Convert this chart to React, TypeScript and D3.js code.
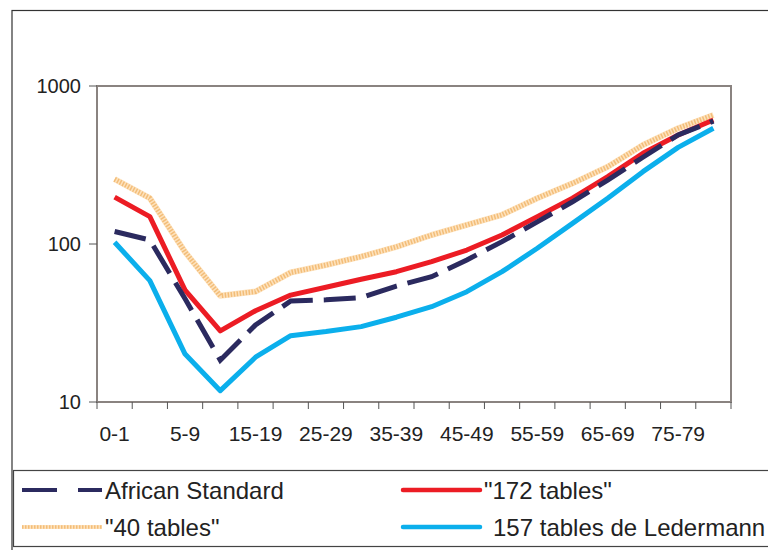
import React from "react";
import * as d3 from "d3";

const categories = ["0-1","1-4","5-9","10-14","15-19","20-24","25-29","30-34","35-39","40-44","45-49","50-54","55-59","60-64","65-69","70-74","75-79","80-84"];
const tickLabels = ["0-1","5-9","15-19","25-29","35-39","45-49","55-59","65-69","75-79"];
const yTicks = [10, 100, 1000];

const africanStandard = [120,106,45,18.4,30.7,43.6,44.3,45.7,54.2,62.1,79.3,103.5,138,185,254,354,490,600];
const tables172 = [198,149,51,28.2,37.8,47.5,53.2,59.8,66.8,77.3,91.6,114,149,195,267,375,490,609];
const tables40 = [257,195,89,47,50,66,73.6,83.2,96,114,132,153,195,242,308,423,540,655];
const ledermann157 = [102.6,58.6,20.1,11.8,19.2,26.3,27.9,30,34.4,40.1,49.9,66.8,94,135,195,287,409,540];

const W = 768, H = 550;
const L = 97, R = 731, T = 86, B = 402;

export default function App() {
  const x = d3.scaleBand<string>().domain(categories).range([L, R]).padding(0);
  const y = d3.scaleLog().domain([10, 1000]).range([B, T]);
  const cx = (i: number) => (x(categories[i]) as number) + x.bandwidth() / 2;
  const line = d3.line<number>().x((_, i) => cx(i)).y((v) => y(v));
  const font = "'Liberation Sans', Arial, sans-serif";
  const boundaries = d3.range(categories.length + 1).map((i) => L + i * x.bandwidth());

  return (
    <svg width={W} height={H} style={{ position: "absolute", left: 0, top: 0 }}>
      <rect x={0} y={0} width={W} height={H} fill="#fff" />
      {/* outer frame */}
      <rect x={12} y={10.5} width={800} height={600} fill="none" stroke="#333" strokeWidth={1.2} />
      {/* plot frame */}
      <rect x={L} y={T} width={R - L} height={B - T} fill="none" stroke="#8a8380" strokeWidth={2} />
      {/* y ticks */}
      {yTicks.map((t) => (
        <g key={t}>
          <line x1={89} x2={L} y1={y(t)} y2={y(t)} stroke="#555" strokeWidth={1} />
          <text x={81} y={y(t)} dy="0.36em" textAnchor="end" fontFamily={font} fontSize={20} fill="#222">{t}</text>
        </g>
      ))}
      {/* x ticks */}
      {boundaries.map((b, i) => (
        <line key={i} x1={b} x2={b} y1={B} y2={B + 7} stroke="#555" strokeWidth={1} />
      ))}
      {tickLabels.map((lab) => (
        <text key={lab} x={cx(categories.indexOf(lab))} y={433} dy="0.36em" textAnchor="middle" fontFamily={font} fontSize={21} fill="#222">{lab}</text>
      ))}
      {/* series */}
      <path d={line(tables40) as string} fill="none" stroke="#fde2bd" strokeWidth={6} strokeLinejoin="round" />
      <path d={line(tables40) as string} fill="none" stroke="#f3bd78" strokeWidth={5} strokeDasharray="1.5,1.5" strokeLinejoin="round" />
      <path d={line(tables172) as string} fill="none" stroke="#ec1c24" strokeWidth={5} strokeLinejoin="round" />
      <path d={line(africanStandard) as string} fill="none" stroke="#2b2a5f" strokeWidth={5} strokeDasharray="32,11" strokeLinejoin="miter" />
      <path d={line(ledermann157) as string} fill="none" stroke="#0bafec" strokeWidth={5} strokeLinejoin="round" />
      {/* legend */}
      <rect x={13.5} y={470.5} width={800} height={76} fill="none" stroke="#444" strokeWidth={1.2} />
      <line x1={22} x2={102} y1={490} y2={490} stroke="#2b2a5f" strokeWidth={4} strokeDasharray="35,21" />
      <text x={105} y={490} dy="0.36em" fontFamily={font} fontSize={24} fill="#222">African Standard</text>
      <line x1={22} x2={102} y1={527} y2={527} stroke="#fde2bd" strokeWidth={4} />
      <line x1={22} x2={102} y1={527} y2={527} stroke="#f3bd78" strokeWidth={3.5} strokeDasharray="1.5,1.5" />
      <text x={105} y={527} dy="0.36em" fontFamily={font} fontSize={24} fill="#222">"40 tables"</text>
      <line x1={403} x2={480} y1={490} y2={490} stroke="#ec1c24" strokeWidth={4.5} strokeLinecap="round" />
      <text x={484} y={490} dy="0.36em" fontFamily={font} fontSize={24} fill="#222">"172 tables"</text>
      <line x1={403} x2={480} y1={527} y2={527} stroke="#0bafec" strokeWidth={4.5} strokeLinecap="round" />
      <text x={493} y={527} dy="0.36em" fontFamily={font} fontSize={24} fill="#222">157 tables de Ledermann</text>
    </svg>
  );
}
